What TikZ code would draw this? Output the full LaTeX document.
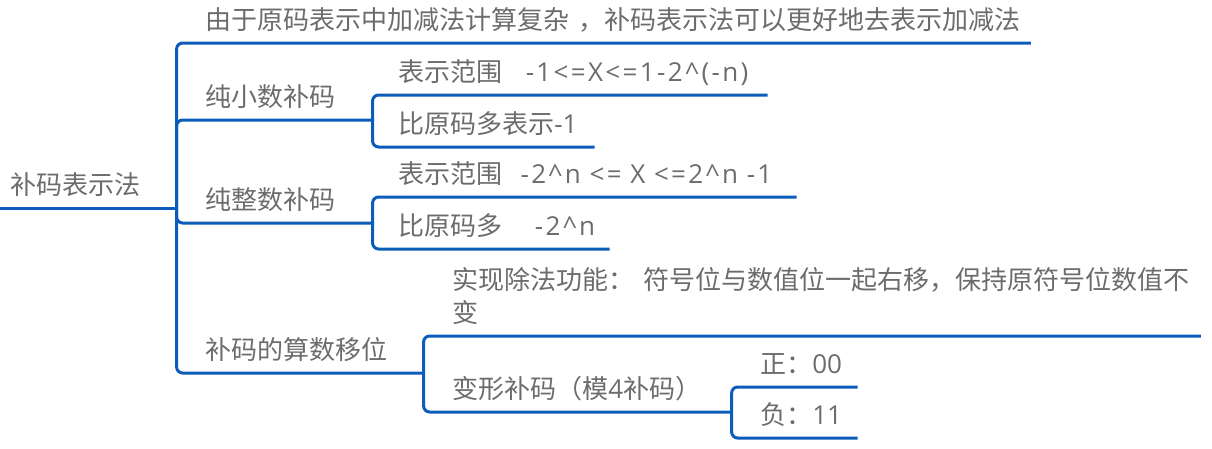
\documentclass[tikz,border=0pt]{standalone}
\usepackage{fontspec}
\setmainfont{Noto Sans CJK SC}
\newfontfamily\mmlatin{Open Sans}
\newfontfamily\mmformula[LetterSpace=9]{Open Sans}
\usepackage{tikz}
\definecolor{mmblue}{RGB}{12,92,186}
\definecolor{mmtext}{RGB}{108,108,108}
\tikzset{
    topic/.style={anchor=south west, inner xsep=0pt, inner ysep=0.325cm, text depth=0pt, align=left, text=mmtext, font=\fontsize{18.5}{23.4}\selectfont},
    branch/.style={draw=mmblue, line width=0.075cm, rounded corners=0.15cm},
}
\begin{document}
\begin{tikzpicture}[x=0.025cm, y=-0.025cm]
    \useasboundingbox (0,0) rectangle (1212,448);
    \coordinate (start) at (0,208);
    \node[topic, text width=4.15cm] (root) at (10,208) {补码表示法};
    \node[topic, text width=20.625cm] (why) at (205,43) {由于原码表示中加减法计算复杂 ，补码表示法可以更好地去表示加减法};
    \node[topic, text width=4.175cm] (frac) at (205,120) {纯小数补码};
    \node[topic, text width=4.175cm] (int) at (205,223) {纯整数补码};
    \node[topic, text width=5.45cm] (shift) at (205,373) {补码的算数移位};
    \node[topic, text width=9.225cm] (fracrange) at (398,95) {表示范围\hspace{0.9em}{\mmformula -1<=X<=1-2\textasciicircum(-n)}};
    \node[topic, text width=4.9cm] (fracmore) at (398,147) {比原码多表示{\mmlatin -1}};
    \node[topic, text width=9.95cm] (intrange) at (398,197) {表示范围\hspace{0.7em}{\mmformula -2\textasciicircum n <= X <=2\textasciicircum n -1}};
    \node[topic, text width=5.275cm] (intmore) at (398,249) {比原码多\hspace{1.25em}{\mmformula -2\textasciicircum n}};
    \node[topic, text width=18.7cm, text depth=0.825cm] (divide) at (452,336) {实现除法功能： 符号位与数值位一起右移，保持原符号位数值不\\变};
    \node[topic, text width=6.975cm] (mod4) at (452,412) {变形补码（模{\mmlatin 4}补码）};
    \node[topic, text width=2.425cm] (pos) at (760,387) {正：{\mmlatin 00}};
    \node[topic, text width=2.425cm] (neg) at (760,438) {负：{\mmlatin 11}};
    \draw[branch] (start) -- (root.south east);
    \draw[branch] (root.south east) |- (why.south east);
    \draw[branch] (root.south east) |- (frac.south east);
    \draw[branch] (root.south east) |- (int.south east);
    \draw[branch] (root.south east) |- (shift.south east);
    \draw[branch] (frac.south east) |- (fracrange.south east);
    \draw[branch] (frac.south east) |- (fracmore.south east);
    \draw[branch] (int.south east) |- (intrange.south east);
    \draw[branch] (int.south east) |- (intmore.south east);
    \draw[branch] (shift.south east) |- (divide.south east);
    \draw[branch] (shift.south east) |- (mod4.south east);
    \draw[branch] (mod4.south east) |- (pos.south east);
    \draw[branch] (mod4.south east) |- (neg.south east);
\end{tikzpicture}
\end{document}
